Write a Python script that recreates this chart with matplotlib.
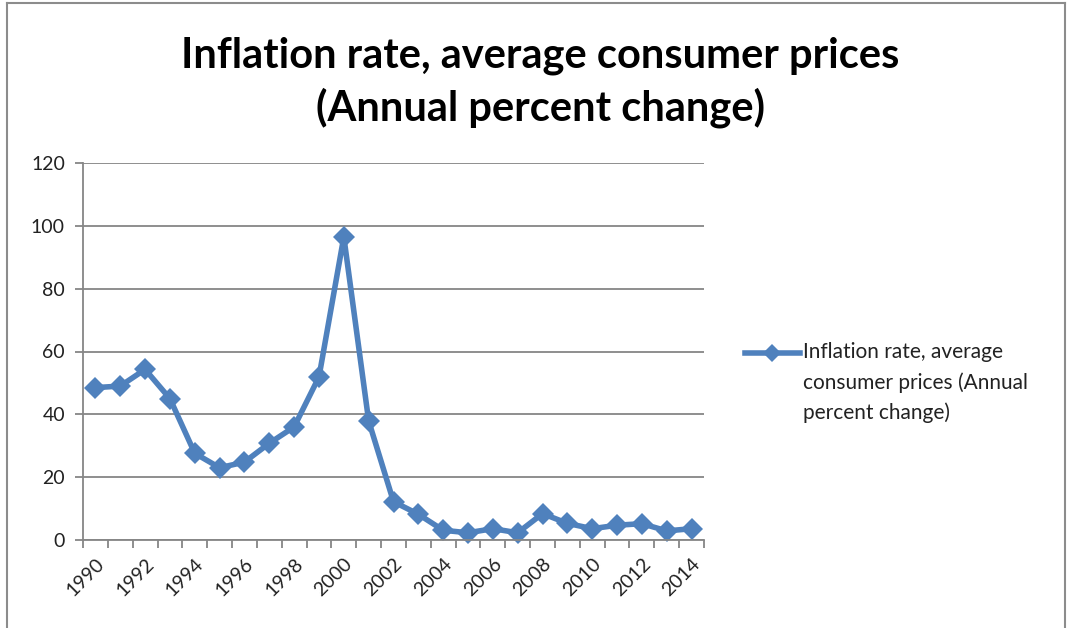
import numpy as np
import matplotlib
matplotlib.use("Agg")
import matplotlib.pyplot as plt
from matplotlib.lines import Line2D

plt.rcParams['font.family'] = ['Lato', 'DejaVu Sans']

years = list(range(1990, 2015))
inflation = [48.5, 49.0, 54.3, 45.0, 27.6, 23.0, 24.8, 30.8, 36.0, 51.9, 96.5,
             37.9, 12.2, 8.2, 3.1, 2.3, 3.6, 2.3, 8.4, 5.3, 3.6, 4.7, 5.2, 2.9, 3.6]
series_name = "Inflation rate, average\nconsumer prices (Annual\npercent change)"
title = "Inflation rate, average consumer prices\n(Annual percent change)"

BLUE = "#4F81BD"
GRID = "#868686"
W, H = 1068, 628
fig = plt.figure(figsize=(W / 100, H / 100), dpi=100)
ax = fig.add_axes([83 / W, 1 - 540 / H, (704 - 83) / W, (540 - 163) / H])

x = np.arange(len(years))
ax.plot(x, inflation, color=BLUE, lw=4, marker="D", ms=11,
        markeredgewidth=0, solid_joinstyle="round", clip_on=False)

ax.set_xlim(-0.5, len(years) - 0.5)
ax.set_ylim(0, 120)
ax.set_yticks(range(0, 121, 20))
ax.yaxis.grid(True, color=GRID, lw=1.3)
ax.set_axisbelow(True)

# category axis: ticks at boundaries, labels every other year
ax.set_xticks(np.arange(-0.5, len(years), 1.0))
ax.set_xticklabels([])
ax.set_xticks(x[::2], minor=True)
ax.set_xticklabels([str(y) for y in years[::2]], minor=True, rotation=45,
                   ha="right", rotation_mode="anchor", fontsize=14, color="#222222")
ax.tick_params(axis="x", which="minor", length=0, pad=11)
ax.tick_params(axis="x", which="major", length=6, color=GRID, width=1.3)
ax.tick_params(axis="y", length=6, color=GRID, width=1.3, labelsize=14,
               labelcolor="#222222", pad=7)

for s in ("top", "right"):
    ax.spines[s].set_visible(False)
for s in ("left", "bottom"):
    ax.spines[s].set_color(GRID)
    ax.spines[s].set_linewidth(1.3)

fig.text(540 / W, 1 - 82 / H, title, ha="center", va="center", fontsize=30,
         fontweight="bold", linespacing=1.38)

# legend, drawn by hand so the key sits on the first text line
ly = 1 - 353 / H
fig.add_artist(Line2D([745 / W, 800 / W], [ly, ly], color=BLUE, lw=4))
fig.add_artist(Line2D([772 / W], [ly], color=BLUE, marker="D", ms=9, markeredgewidth=0))
fig.text(803 / W, 1 - 342 / H, series_name, ha="left", va="top", fontsize=15,
         color="#222222", linespacing=1.6)

# chart border
for seg in (((7, 7), (3, H)), ((7, 1065), (3, 3)), ((1065, 1065), (3, H))):
    fig.add_artist(Line2D([s / W for s in seg[0]], [1 - s / H for s in seg[1]],
                          color="#8c8c8c", lw=1.5))

fig.savefig("out.png", dpi=100)
